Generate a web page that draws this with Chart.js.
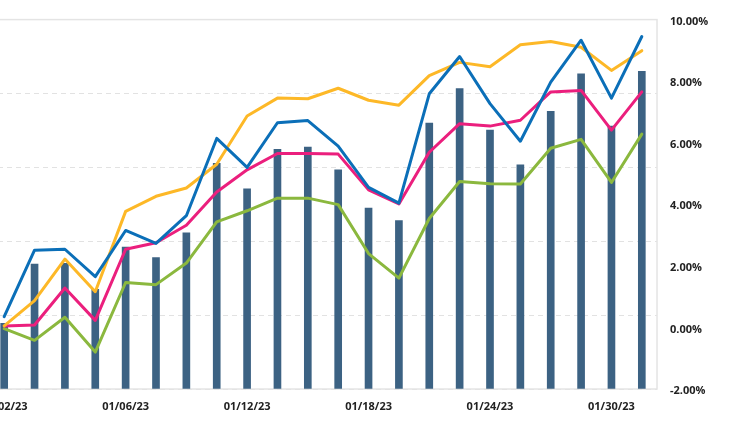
<!DOCTYPE html>
<html><head><meta charset="utf-8">
<script src="https://cdn.jsdelivr.net/npm/chart.js@4.4.0/dist/chart.umd.min.js"></script>
<style>
html,body{margin:0;padding:0;overflow:hidden;background:#fff;width:737px;height:427px}
#wrap{position:absolute;left:-40px;top:0;width:777px;height:427px}
</style>
</head><body><div id="wrap"><canvas id="c" width="777" height="427"></canvas></div>
<script>
const categories = ["01/02/23","01/03/23","01/04/23","01/05/23","01/06/23","01/09/23","01/10/23","01/11/23","01/12/23","01/13/23","01/16/23","01/17/23","01/18/23","01/19/23","01/20/23","01/23/23","01/24/23","01/25/23","01/26/23","01/27/23","01/30/23","01/31/23"];
const barValues = [1.78,3.38,3.40,2.70,3.84,3.56,4.23,6.11,5.42,6.49,6.55,5.93,4.90,4.56,7.20,8.13,7.01,6.07,7.52,8.53,7.12,8.60];
const blueSeries = [0.35,2.51,2.54,1.65,3.15,2.73,3.63,6.14,5.20,6.65,6.72,5.89,4.55,4.04,7.59,8.80,7.27,6.05,7.97,9.33,7.45,9.45];
const yellowSeries = [0.05,0.87,2.22,1.16,3.77,4.26,4.53,5.30,6.87,7.45,7.43,7.77,7.38,7.22,8.18,8.61,8.47,9.18,9.29,9.10,8.35,8.99];
const pinkSeries = [0.05,0.08,1.28,0.23,2.54,2.75,3.32,4.40,5.12,5.65,5.65,5.63,4.47,4.01,5.69,6.62,6.54,6.73,7.65,7.70,6.41,7.65];
const greenSeries = [-0.04,-0.42,0.33,-0.80,1.46,1.39,2.09,3.43,3.79,4.20,4.20,3.99,2.40,1.60,3.54,4.74,4.67,4.66,5.82,6.11,4.71,6.28];
const rightTicks = [-2,0,2,4,6,8,10];
const labelEvery = 4;

const tickFont = {family:"'Open Sans', sans-serif", size:11, weight:'bold'};
const tickColor = '#222222';

const boxPlugin = {
  id:'box',
  beforeDatasetsDraw(chart){
    const {ctx, chartArea:a} = chart;
    ctx.save();
    ctx.strokeStyle = '#e4e4e4';
    ctx.lineWidth = 1.5;
    ctx.strokeRect(a.left, a.top, a.right-a.left, a.bottom-a.top);
    ctx.restore();
  }
};

function lineDs(label, data, color, order){
  return {type:'line', label, data, yAxisID:'yR', borderColor:color, backgroundColor:color,
    borderWidth:3, pointRadius:0, tension:0, borderJoinStyle:'round', borderCapStyle:'round', order};
}

new Chart(document.getElementById('c'), {
  data:{
    labels: categories,
    datasets:[
      lineDs('Blue', blueSeries, '#0b6fb8', 1),
      lineDs('Yellow', yellowSeries, '#fdb827', 2),
      lineDs('Pink', pinkSeries, '#eb1f7d', 3),
      lineDs('Green', greenSeries, '#8bb83e', 4),
      {type:'bar', label:'Bars', data:barValues, yAxisID:'yL', backgroundColor:'#3c6283', barThickness:7, order:10}
    ]
  },
  options:{
    responsive:false, animation:false, devicePixelRatio:1,
    layout:{padding:{top:17,left:0,right:0,bottom:0}},
    plugins:{legend:{display:false}, tooltip:{enabled:false}},
    scales:{
      x:{
        offset:true,
        grid:{display:false, drawTicks:false},
        border:{display:false},
        ticks:{autoSkip:false, maxRotation:0, minRotation:0, padding:11, font:tickFont, color:tickColor,
          callback:function(v,i){ return i % labelEvery === 0 ? categories[i] : ''; }},
        afterFit(s){ s.height = 38; }
      },
      yL:{
        position:'left', min:0, max:10,
        ticks:{display:false, stepSize:2},
        grid:{color:'#e2e2e2', lineWidth:1, drawTicks:false},
        border:{display:false, dash:[5,4]},
        afterFit(s){ s.width = 29; }
      },
      yR:{
        position:'right', min:-2, max:10,
        afterBuildTicks(s){ s.ticks = rightTicks.map(v=>({value:v})); },
        ticks:{padding:13, font:tickFont, color:tickColor, labelOffset:2,
          callback:(v)=> Number(v).toFixed(2)+'%'},
        grid:{display:false, drawTicks:false},
        border:{display:false},
        afterFit(s){ s.width = 80; }
      }
    }
  },
  plugins:[boxPlugin]
});
</script>
</body></html>
